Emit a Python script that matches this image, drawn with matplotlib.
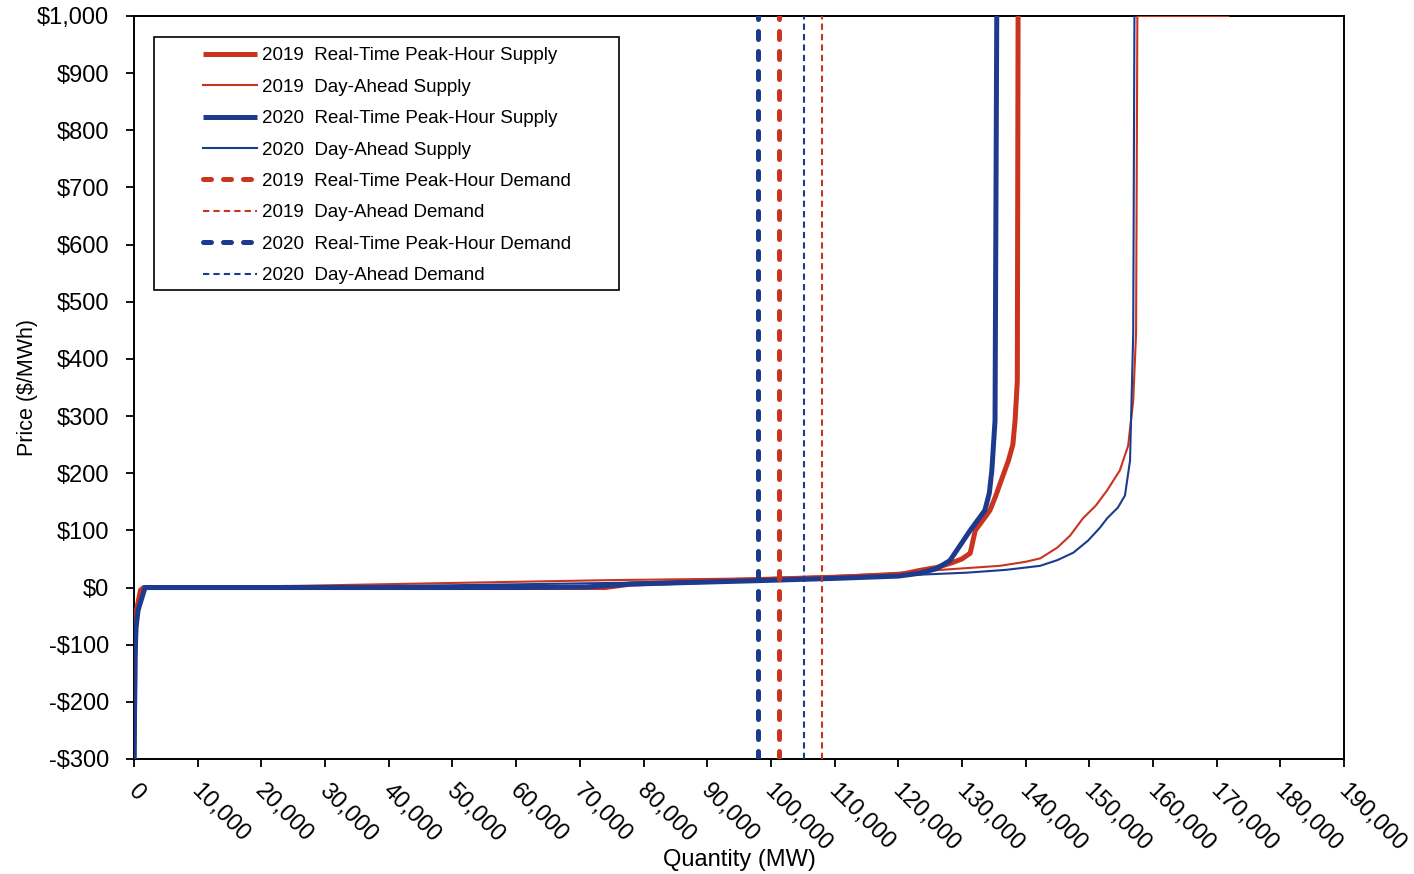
import matplotlib.pyplot as plt
import matplotlib.transforms as mtransforms
from matplotlib.patches import Rectangle

RED = "#C9341F"
BLUE = "#1C3B8E"

# supply curves: quantity (MW), price ($/MWh)
rt19_q = [0, 150, 300, 650, 1000, 1500, 30000, 60000, 74000, 78000, 98000, 110000, 120000,
          123400, 126000, 128100, 130000, 131300, 132100, 133300, 134400, 135300, 136000,
          137300, 138000, 138350, 138700, 138820]
rt19_p = [-300, -120, -45, -25, -5, 0, 0, 0, 0, 6, 14, 18, 22,
          30, 35, 42, 50, 60, 100, 118, 135, 160, 182, 222, 250, 292, 362, 1000]

da19_q = [0, 150, 300, 650, 1000, 1500, 26000, 50000, 75000, 98000, 110000, 120300, 136000,
          140000, 142300, 145000, 147000, 149000, 151000, 152800, 154800, 156100, 156900,
          157350, 157550, 171800]
da19_p = [-300, -120, -45, -25, -5, 0, 3, 8, 13, 16, 20, 26, 38,
          45, 51, 70, 91, 121, 143, 170, 205, 248, 327, 445, 1000, 1000]

rt20_q = [0, 160, 314, 630, 1260, 1730, 30000, 60000, 71000, 78000, 98000, 110000, 120000,
          123400, 126000, 128100, 129800, 131300, 133600, 134300, 134700, 135200, 135470]
rt20_p = [-300, -120, -70, -40, -17, 0, 0, 0, 1, 6, 12, 16, 20,
          25, 33, 47, 75, 100, 135, 165, 205, 292, 1000]

da20_q = [0, 160, 314, 630, 1260, 1730, 26000, 50000, 75000, 98000, 110000, 120300, 130800,
          137000, 142300, 145000, 147500, 149800, 151700, 152800, 154500, 155600, 156400,
          156900, 157090]
da20_p = [-300, -120, -70, -40, -17, 0, 1, 4, 8, 12, 16, 21, 26,
          31, 38, 48, 61, 82, 105, 121, 140, 161, 222, 445, 1000]

# demand (vertical) lines, MW
rt19_demand = 101300
da19_demand = 108000
rt20_demand = 98000
da20_demand = 105200

labels = [
    "2019  Real-Time Peak-Hour Supply",
    "2019  Day-Ahead Supply",
    "2020  Real-Time Peak-Hour Supply",
    "2020  Day-Ahead Supply",
    "2019  Real-Time Peak-Hour Demand",
    "2019  Day-Ahead Demand",
    "2020  Real-Time Peak-Hour Demand",
    "2020  Day-Ahead Demand",
]

y_ticks = list(range(-300, 1001, 100))
x_ticks = list(range(0, 190001, 10000))

plt.rcParams["font.family"] = ["Liberation Sans", "DejaVu Sans"]

fig = plt.figure(figsize=(14.14, 8.74), dpi=100)
ax = fig.add_axes([0.0948, 0.1316, 0.8557, 0.8501])

thick = 3.6
thin = 1.5

h = []
h += ax.plot(rt19_q, rt19_p, color=RED, lw=thick, solid_capstyle="butt", zorder=3)
h += ax.plot(da19_q, da19_p, color=RED, lw=thin, zorder=3)
h += ax.plot(rt20_q, rt20_p, color=BLUE, lw=thick, solid_capstyle="butt", zorder=4)
h += ax.plot(da20_q, da20_p, color=BLUE, lw=thin, zorder=4)

ylo, yhi = -300, 1000
h += ax.plot([rt19_demand] * 2, [ylo, yhi], color=RED, lw=thick, dashes=(1.6, 2.4),
             dash_capstyle="round", zorder=5)
h += ax.plot([da19_demand] * 2, [ylo, yhi], color=RED, lw=thin, dashes=(3, 2), zorder=5)
h += ax.plot([rt20_demand] * 2, [ylo, yhi], color=BLUE, lw=thick, dashes=(1.6, 2.4),
             dash_capstyle="round", zorder=5)
h += ax.plot([da20_demand] * 2, [ylo, yhi], color=BLUE, lw=thin, dashes=(3, 2), zorder=5)

ax.set_xlim(0, 190000)
ax.set_ylim(ylo, yhi)

ax.set_yticks(y_ticks)
ax.set_yticklabels([f"${v:,}" if v >= 0 else f"-${-v:,}" for v in y_ticks])
ax.set_xticks(x_ticks)
ax.set_xticklabels([f"{v:,}" for v in x_ticks], rotation=-45, ha="left", va="top",
                   rotation_mode="anchor")
ax.tick_params(axis="both", direction="out", length=6, width=1.3, labelsize=17, colors="black")
ax.tick_params(axis="x", pad=9)
ax.tick_params(axis="y", pad=12)
shift = mtransforms.ScaledTranslation(5 / 100, 0, fig.dpi_scale_trans)
for lbl in ax.get_xticklabels():
    lbl.set_transform(lbl.get_transform() + shift)
for s in ax.spines.values():
    s.set_linewidth(1.4)
    s.set_color("black")

ax.set_xlabel("Quantity (MW)", fontsize=17)
ax.set_ylabel("Price ($/MWh)", fontsize=15.5)
ax.xaxis.set_label_coords(0.5, -0.121)
ax.yaxis.set_label_coords(-0.079, 0.5)

# legend with a manually drawn frame
leg = ax.legend(h, labels, loc="upper left", bbox_to_anchor=(0.0445, 0.978), frameon=False,
                fontsize=13.5, handlelength=2.9, handletextpad=0.27, labelspacing=0.76,
                borderpad=0.3)
leg.set_zorder(7)
ax.add_patch(Rectangle((0.0165, 0.631), 0.3843, 0.3405, transform=ax.transAxes,
                       facecolor="white", edgecolor="black", lw=1.2, zorder=6))

fig.savefig("out.png", dpi=100)
